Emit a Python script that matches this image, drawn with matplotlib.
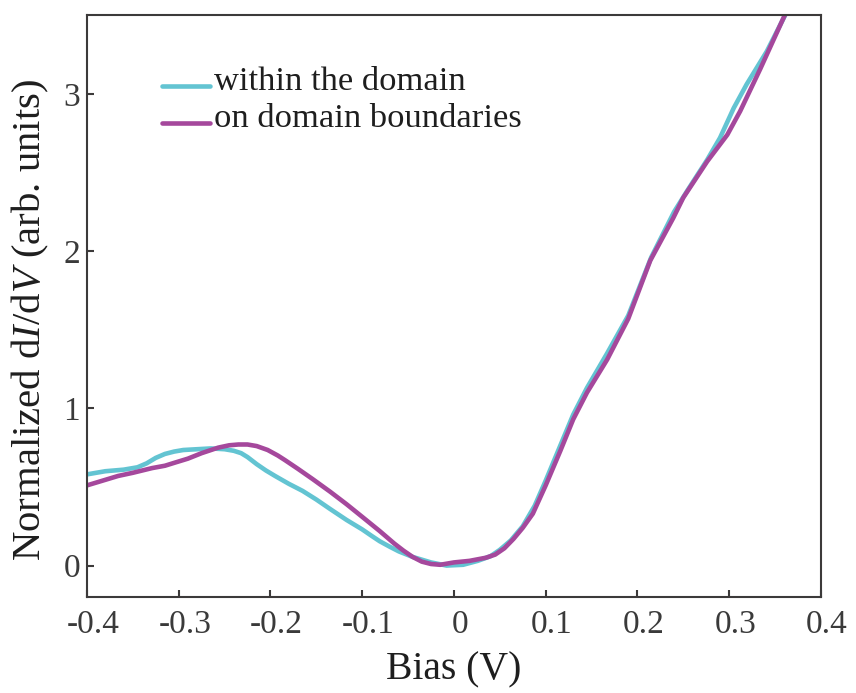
import matplotlib
matplotlib.use("Agg")
import matplotlib.pyplot as plt
import matplotlib.transforms as mtransforms
from matplotlib.legend_handler import HandlerLine2D

plt.rcParams['font.family'] = ['Liberation Serif', 'DejaVu Serif']
plt.rcParams['mathtext.fontset'] = 'custom'
plt.rcParams['mathtext.rm'] = 'Liberation Serif'
plt.rcParams['mathtext.it'] = 'Liberation Serif:italic'
plt.rcParams['axes.unicode_minus'] = False

# ---- data ----
within_x = [-0.40, -0.38, -0.36, -0.345, -0.335, -0.325, -0.315, -0.305, -0.295, -0.28,
            -0.265, -0.25, -0.24, -0.232, -0.225, -0.215, -0.205, -0.195, -0.18, -0.165,
            -0.15, -0.135, -0.117, -0.10, -0.09, -0.081, -0.07, -0.06, -0.045, -0.025,
            -0.008, 0.01, 0.026, 0.04, 0.05, 0.062, 0.075, 0.088, 0.10, 0.115,
            0.13, 0.145, 0.167, 0.19, 0.215, 0.24, 0.255, 0.276, 0.29, 0.305,
            0.319, 0.341, 0.361, 0.37]
within_y = [0.58, 0.60, 0.61, 0.625, 0.65, 0.685, 0.71, 0.725, 0.735, 0.74,
            0.745, 0.74, 0.73, 0.715, 0.69, 0.645, 0.605, 0.57, 0.52, 0.475,
            0.42, 0.36, 0.29, 0.23, 0.19, 0.155, 0.12, 0.09, 0.055, 0.02,
            0.00, 0.005, 0.03, 0.06, 0.10, 0.16, 0.25, 0.38, 0.54, 0.75,
            0.96, 1.13, 1.35, 1.59, 1.96, 2.25, 2.39, 2.58, 2.72, 2.91,
            3.06, 3.27, 3.50, 3.58]

boundary_x = [-0.40, -0.383, -0.366, -0.35, -0.329, -0.315, -0.304, -0.29, -0.275, -0.257,
              -0.245, -0.235, -0.225, -0.215, -0.203, -0.192, -0.184, -0.17, -0.154, -0.135,
              -0.117, -0.10, -0.081, -0.065, -0.055, -0.045, -0.035, -0.025, -0.015, 0.0,
              0.017, 0.035, 0.045, 0.055, 0.065, 0.075, 0.086, 0.10, 0.116, 0.13,
              0.145, 0.167, 0.19, 0.214, 0.239, 0.25, 0.276, 0.298, 0.312, 0.334,
              0.359, 0.37]
boundary_y = [0.51, 0.54, 0.57, 0.59, 0.62, 0.635, 0.655, 0.68, 0.715, 0.75,
              0.765, 0.77, 0.77, 0.76, 0.735, 0.70, 0.67, 0.615, 0.55, 0.47,
              0.39, 0.31, 0.22, 0.14, 0.095, 0.055, 0.025, 0.01, 0.005, 0.02,
              0.03, 0.05, 0.07, 0.11, 0.17, 0.24, 0.33, 0.51, 0.73, 0.93,
              1.10, 1.31, 1.57, 1.94, 2.21, 2.34, 2.57, 2.74, 2.89, 3.16,
              3.48, 3.62]

series_labels = ["within the domain", "on domain boundaries"]
x_ticks = [-0.4, -0.3, -0.2, -0.1, 0, 0.1, 0.2, 0.3, 0.4]
x_ticklabels = ["-0.4", "-0.3", "-0.2", "-0.1", "0", "0.1", "0.2", "0.3", "0.4"]
y_ticks = [0, 1, 2, 3]
y_ticklabels = ["0", "1", "2", "3"]

cyan = "#63C4D2"
purple = "#A5489C"
spine_col = "#3c3a3a"


class LowHandler(HandlerLine2D):
    def create_artists(self, legend, orig_handle, xdescent, ydescent, width, height,
                       fontsize, trans):
        return super().create_artists(legend, orig_handle, xdescent, ydescent + 12,
                                      width, height, fontsize, trans)


fig = plt.figure(figsize=(8.56, 6.93), dpi=100)
ax = fig.add_axes([0.1016, 0.1385, 0.8574, 0.8395])

l1, = ax.plot(within_x, within_y, color=cyan, lw=3.3, label=series_labels[0],
              solid_capstyle='round', solid_joinstyle='round')
l2, = ax.plot(boundary_x, boundary_y, color=purple, lw=3.3, label=series_labels[1],
              solid_capstyle='round', solid_joinstyle='round')

ax.set_xlim(-0.4, 0.4)
ax.set_ylim(-0.2, 3.5)
ax.set_xticks(x_ticks)
ax.set_xticklabels(x_ticklabels)
ax.set_yticks(y_ticks)
ax.set_yticklabels(y_ticklabels)

for s in ['top', 'right', 'left', 'bottom']:
    ax.spines[s].set_linewidth(1.5)
    ax.spines[s].set_color(spine_col)

ax.tick_params(axis='both', direction='in', length=5, width=1.5, color=spine_col,
               labelsize=24, labelcolor='#3a3a3a', top=False, right=False)
ax.tick_params(axis='x', pad=9)
ax.tick_params(axis='y', pad=5)

offset = mtransforms.ScaledTranslation(6 / 100, 0, fig.dpi_scale_trans)
for lab in ax.get_xticklabels():
    lab.set_transform(lab.get_transform() + offset)

ax.set_xlabel("Bias (V)", fontsize=28.5, color='#1e1e1e', labelpad=8)
ax.set_ylabel(r"Normalized d$I$/d$V$ (arb. units)", fontsize=29.3, color='#1e1e1e')
ax.yaxis.set_label_coords(-0.049, 0.476)

leg = ax.legend(handles=[l1, l2], loc='upper left', bbox_to_anchor=(0.102, 0.913),
                frameon=False, fontsize=24.8, handlelength=1.4, handletextpad=0.12,
                labelspacing=0.17, borderaxespad=0, borderpad=0,
                handler_map={l1: LowHandler(), l2: LowHandler()})
for t in leg.get_texts():
    t.set_color('#1e1e1e')

fig.savefig("out.png", dpi=100)
